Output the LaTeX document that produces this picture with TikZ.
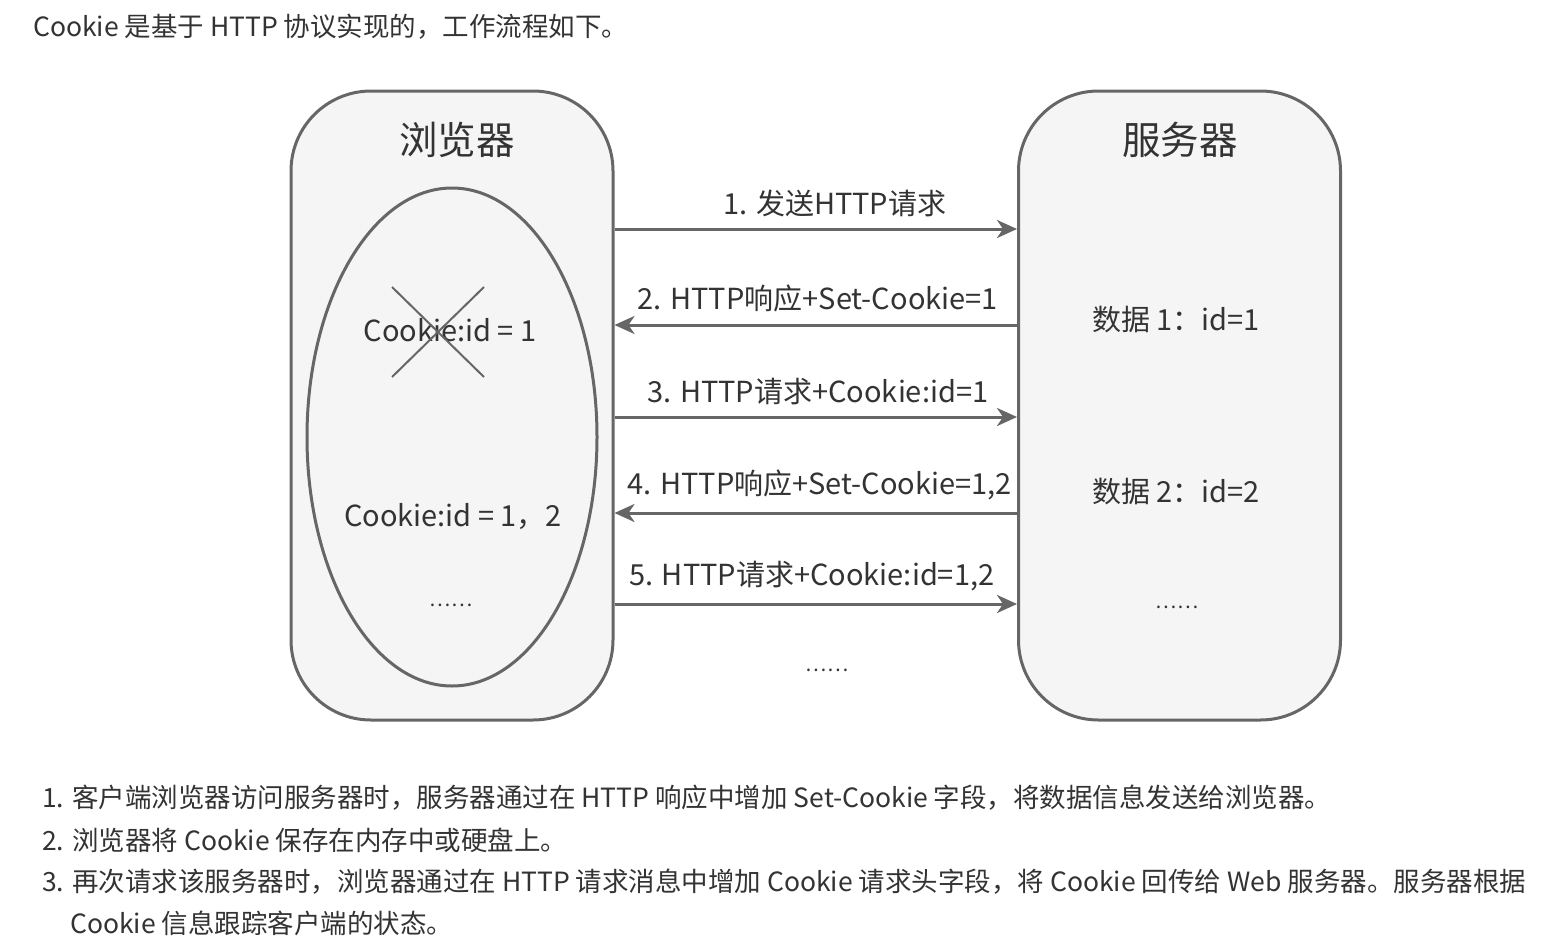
\documentclass[tikz,border=0pt]{standalone}
\usepackage{fontspec}
\setmainfont{Noto Sans CJK SC}
\usetikzlibrary{shapes.geometric,arrows.meta}
\definecolor{linegray}{HTML}{666666}
\definecolor{boxfill}{HTML}{F5F5F5}
\definecolor{txt}{HTML}{333333}
\tikzset{
	side/.style={draw=linegray,line width=3pt,fill=boxfill,rounded corners=80pt,minimum width=322pt,minimum height=629pt},
	store/.style={draw=linegray,line width=3pt,ellipse,minimum width=290pt,minimum height=498pt},
	msg/.style={draw=linegray,line width=3pt},
	fwd/.style={-{Stealth[length=20pt,width=18pt,inset=6pt]}},
	bwd/.style={{Stealth[length=20pt,width=18pt,inset=6pt]}-},
	lbl/.style={text=txt,font=\fontsize{29}{34}\selectfont,inner sep=0pt},
	dots/.style={text=txt,font=\fontsize{20}{24}\selectfont,inner sep=0pt},
	para/.style={text=txt,font=\fontsize{26.5}{32}\selectfont,inner sep=0pt,anchor=west}
}
\begin{document}
\begin{tikzpicture}[x=1pt,y=-1pt]
	\useasboundingbox[fill=white] (0,0) rectangle (1551,948);
	\node[para] (intro) at (33,27) {Cookie 是基于 HTTP 协议实现的，工作流程如下。};
	% the two sides
	\node[side] (browser) at (452,405.5) {};
	\node[side] (server) at (1179.5,405.5) {};
	\node[lbl,font=\fontsize{38.5}{44}\selectfont] (btitle) at (457,140) {浏览器};
	\node[lbl,font=\fontsize{38.5}{44}\selectfont] (stitle) at (1180,140) {服务器};
	\node[store] (jar) at (452,437) {};
	\node[lbl] (old) at (450,330) {Cookie:id = 1};
	\draw[linegray,line width=2pt] (old.center) +(-58,-43) -- +(34,47);
	\draw[linegray,line width=2pt] (old.center) +(34,-43) -- +(-58,47);
	\node[lbl] (new) at (453,517) {Cookie:id = 1，2};
	\node[dots] (bmore) at (451,605) {……};
	\node[lbl] (data1) at (1176,320) {数据 1：id=1};
	\node[lbl] (data2) at (1176,492) {数据 2：id=2};
	\node[dots] (smore) at (1177,607) {……};
	% messages
	\foreach \n/\y/\dx/\dir/\txt in {1/229/19/fwd/{1. 发送HTTP请求},2/325/2/bwd/{2. HTTP响应+Set-Cookie=1},3/417/2/fwd/{3. HTTP请求+Cookie:id=1},4/513/4/bwd/{4. HTTP响应+Set-Cookie=1,2},5/604/-4/fwd/{5. HTTP请求+Cookie:id=1,2}}{
		\coordinate (b\n) at (browser.east |- 0,\y);
		\coordinate (s\n) at (server.west |- 0,\y);
		\draw[msg,\dir] (b\n) -- node[lbl,above=11pt,xshift=\dx pt] (m\n) {\txt} (s\n);
	}
	\node[dots] (mmore) at (827,670) {……};
	% notes
	\node[para] (n1) at (42,798) {1. 客户端浏览器访问服务器时，服务器通过在 HTTP 响应中增加 Set-Cookie 字段，将数据信息发送给浏览器。};
	\node[para] (n2) at (42,840) {2. 浏览器将 Cookie 保存在内存中或硬盘上。};
	\node[para] (n3) at (42,882) {3. 再次请求该服务器时，浏览器通过在 HTTP 请求消息中增加 Cookie 请求头字段，将 Cookie 回传给 Web 服务器。服务器根据};
	\node[para] (n4) at (70,923) {Cookie 信息跟踪客户端的状态。};
\end{tikzpicture}
\end{document}
